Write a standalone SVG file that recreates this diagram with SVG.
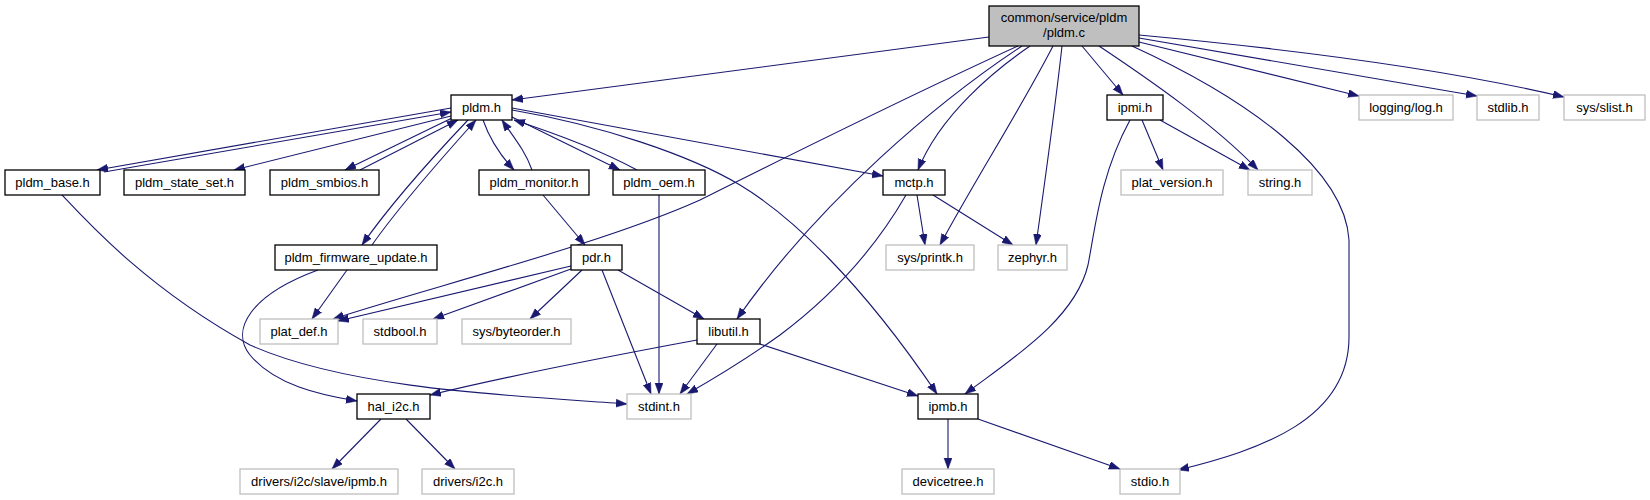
<svg xmlns="http://www.w3.org/2000/svg" width="1650" height="500" viewBox="0 0 1650 500">
<style>
.n rect{fill:#fff;stroke:#000;stroke-width:1.3}
.x rect{fill:#fff;stroke:#bfbfbf;stroke-width:1.3}
.r rect{fill:#bfbfbf;stroke:#000;stroke-width:1.3}
text{font-family:"Liberation Sans",Arial,sans-serif;font-size:13px;fill:#000;text-anchor:middle}
#edges path{fill:none;stroke:#191970;stroke-width:1.1;marker-end:url(#a)}
</style>
<defs>
<marker id="a" markerUnits="userSpaceOnUse" markerWidth="12" markerHeight="9" refX="11" refY="4" orient="auto">
<path d="M0,0 L11,4 L0,8 z" fill="#191970" stroke="#191970" stroke-width="0.5"/>
</marker>
</defs>
<rect width="1650" height="500" fill="#fff"/>
<g id="edges">
<path d="M989,37 L512,100"/>
<path d="M1018,46 C900,100 780,160 700,200 C600,245 420,290 333,319"/>
<path d="M1022,46 C940,100 820,200 737,319"/>
<path d="M1030,46 C995,70 940,115 918,170"/>
<path d="M1053,46 C1020,110 975,180 940,245"/>
<path d="M1062,46 C1055,110 1045,180 1036,245"/>
<path d="M1082,46 L1123,95"/>
<path d="M1099,46 C1150,80 1215,125 1258,170"/>
<path d="M1132,46 C1250,100 1345,170 1349,240 L1349,337 C1349,420 1260,450 1178,470"/>
<path d="M1139,42 L1359,96"/>
<path d="M1139,38 L1477,96"/>
<path d="M1139,35 C1300,50 1450,70 1564,97"/>
<path d="M1142,120 L1163,170"/>
<path d="M1160,120 L1250,170"/>
<path d="M1130,120 C1100,175 1095,230 1088,265 C1075,320 1010,360 965,394"/>
<path d="M917,195 L925,245"/>
<path d="M933,195 L1013,245"/>
<path d="M906,195 C880,240 840,290 780,335 C745,360 715,378 687,394"/>
<path d="M512,108 L883,176"/>
<path d="M512,110 C600,125 690,155 740,185 C790,215 860,280 937,394"/>
<path d="M512,117 L620,170"/>
<path d="M637,170 C600,150 560,135 514,120"/>
<path d="M483,120 C490,140 500,155 514,170"/>
<path d="M532,170 C525,150 512,135 502,120"/>
<path d="M468,120 C430,160 390,205 362,245"/>
<path d="M372,245 C400,205 440,160 476,120"/>
<path d="M452,118 L345,170"/>
<path d="M360,170 L458,120"/>
<path d="M451,116 L234,170"/>
<path d="M451,108 L97,170"/>
<path d="M104,172 L451,112"/>
<path d="M62,195 C90,225 150,290 250,345 C350,390 520,396 627,404"/>
<path d="M347,270 L312,319"/>
<path d="M318,270 C250,295 230,330 250,355 C275,385 320,395 357,401"/>
<path d="M571,266 L338,321"/>
<path d="M571,269 L433,319"/>
<path d="M582,270 L530,319"/>
<path d="M602,270 L651,394"/>
<path d="M618,270 L704,319"/>
<path d="M543,195 L585,245"/>
<path d="M659,195 L659,394"/>
<path d="M697,340 C600,358 500,378 430,395"/>
<path d="M717,344 L680,394"/>
<path d="M760,344 L918,396"/>
<path d="M381,419 L332,469"/>
<path d="M406,419 L455,469"/>
<path d="M948,419 L948,469"/>
<path d="M978,419 L1120,469"/>
</g>
<g id="n_pldm_c" class="r"><rect x="989" y="6" width="150" height="40"/><text x="1064" y="21.5">common/service/pldm</text><text x="1064" y="37">/pldm.c</text></g>
<g id="n_pldm_h" class="n"><rect x="451" y="95" width="61" height="25"/><text x="481.5" y="112">pldm.h</text></g>
<g id="n_pldm_base" class="n"><rect x="5" y="170" width="95" height="25"/><text x="52.5" y="187">pldm_base.h</text></g>
<g id="n_pldm_state_set" class="n"><rect x="124" y="170" width="121" height="25"/><text x="184.5" y="187">pldm_state_set.h</text></g>
<g id="n_pldm_smbios" class="n"><rect x="270" y="170" width="109" height="25"/><text x="324.5" y="187">pldm_smbios.h</text></g>
<g id="n_pldm_monitor" class="n"><rect x="479" y="170" width="110" height="25"/><text x="534" y="187">pldm_monitor.h</text></g>
<g id="n_pldm_oem" class="n"><rect x="613" y="170" width="92" height="25"/><text x="659" y="187">pldm_oem.h</text></g>
<g id="n_mctp" class="n"><rect x="883" y="170" width="62" height="25"/><text x="914" y="187">mctp.h</text></g>
<g id="n_ipmi" class="n"><rect x="1107" y="95" width="56" height="25"/><text x="1135" y="112">ipmi.h</text></g>
<g id="n_log" class="x"><rect x="1359" y="95" width="94" height="25"/><text x="1406" y="112">logging/log.h</text></g>
<g id="n_stdlib" class="x"><rect x="1477" y="95" width="62" height="25"/><text x="1508" y="112">stdlib.h</text></g>
<g id="n_slist" class="x"><rect x="1564" y="95" width="81" height="25"/><text x="1604.5" y="112">sys/slist.h</text></g>
<g id="n_plat_version" class="x"><rect x="1121" y="170" width="102" height="25"/><text x="1172" y="187">plat_version.h</text></g>
<g id="n_string" class="x"><rect x="1248" y="170" width="64" height="25"/><text x="1280" y="187">string.h</text></g>
<g id="n_fw" class="n"><rect x="275" y="245" width="162" height="25"/><text x="356" y="262">pldm_firmware_update.h</text></g>
<g id="n_pdr" class="n"><rect x="571" y="245" width="51" height="25"/><text x="596.5" y="262">pdr.h</text></g>
<g id="n_printk" class="x"><rect x="886" y="245" width="88" height="25"/><text x="930" y="262">sys/printk.h</text></g>
<g id="n_zephyr" class="x"><rect x="998" y="245" width="69" height="25"/><text x="1032.5" y="262">zephyr.h</text></g>
<g id="n_plat_def" class="x"><rect x="260" y="319" width="78" height="25"/><text x="299" y="336">plat_def.h</text></g>
<g id="n_stdbool" class="x"><rect x="363" y="319" width="74" height="25"/><text x="400" y="336">stdbool.h</text></g>
<g id="n_byteorder" class="x"><rect x="462" y="319" width="109" height="25"/><text x="516.5" y="336">sys/byteorder.h</text></g>
<g id="n_libutil" class="n"><rect x="697" y="319" width="63" height="25"/><text x="728.5" y="336">libutil.h</text></g>
<g id="n_hal_i2c" class="n"><rect x="357" y="394" width="73" height="25"/><text x="393.5" y="411">hal_i2c.h</text></g>
<g id="n_stdint" class="x"><rect x="627" y="394" width="64" height="25"/><text x="659" y="411">stdint.h</text></g>
<g id="n_ipmb" class="n"><rect x="918" y="394" width="60" height="25"/><text x="948" y="411">ipmb.h</text></g>
<g id="n_slave_ipmb" class="x"><rect x="240" y="469" width="158" height="25"/><text x="319" y="486">drivers/i2c/slave/ipmb.h</text></g>
<g id="n_drv_i2c" class="x"><rect x="422" y="469" width="92" height="25"/><text x="468" y="486">drivers/i2c.h</text></g>
<g id="n_devicetree" class="x"><rect x="902" y="469" width="92" height="25"/><text x="948" y="486">devicetree.h</text></g>
<g id="n_stdio" class="x"><rect x="1120" y="469" width="60" height="25"/><text x="1150" y="486">stdio.h</text></g>
</svg>
